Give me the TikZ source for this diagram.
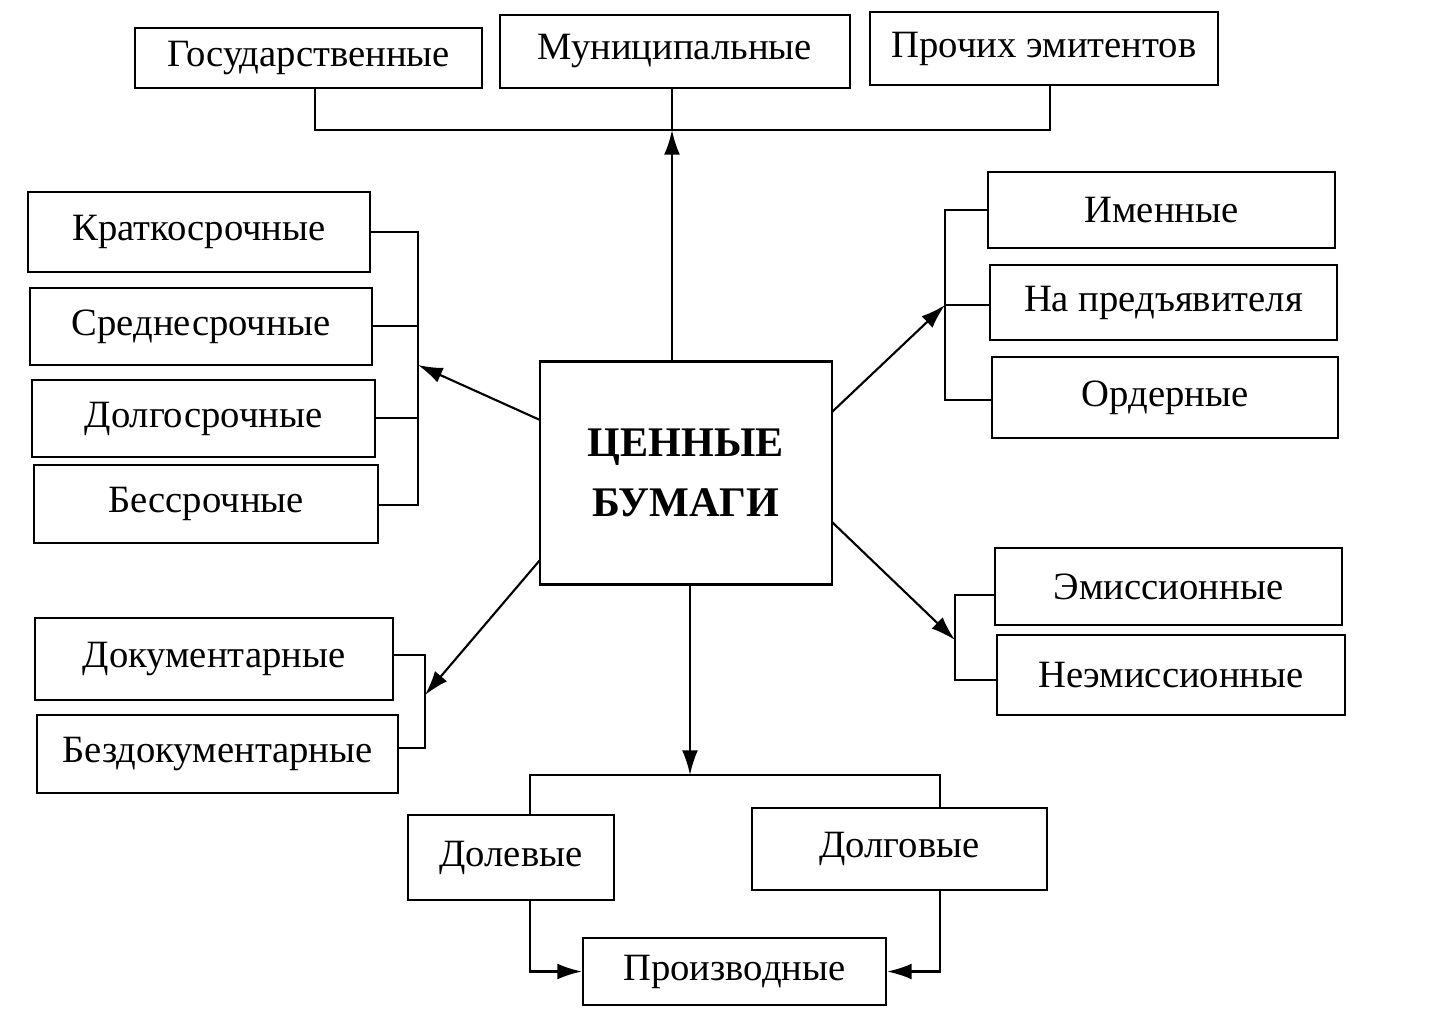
\documentclass[tikz,border=0pt]{standalone}
\usepackage{fontspec}
\setmainfont{Liberation Serif}
\usetikzlibrary{arrows.meta}
\tikzset{
  box/.style={draw, line width=1.2pt, inner sep=0pt, font=\fontsize{22}{26}\selectfont},
  link/.style={line width=1.2pt},
  arr/.style={line width=1.2pt, -{Latex[length=14pt,width=9pt]}}
}
% place a box by its pixel corners
\newcommand{\pbox}[6]{\node[box, minimum width={(#4-#3)*0.02cm}, minimum height={(#6-#5)*0.02cm}] (#1) at ({(#3+#4)/2},{(#5+#6)/2}) {#2};}
\begin{document}
\begin{tikzpicture}[x=0.02cm, y=-0.02cm]
  \useasboundingbox (0,0) rectangle (1441,1017);
  % top row
  \pbox{gos}{Государственные}{135}{482}{28}{88}
  \pbox{mun}{Муниципальные}{500}{850}{15}{88}
  \pbox{pro}{Прочих эмитентов}{870}{1218}{12}{85}
  % centre
  \node[box, font=\fontsize{24}{34}\selectfont\bfseries, align=center, minimum width=5.84cm, minimum height=4.46cm] (cb) at (686,473) {ЦЕННЫЕ\\БУМАГИ};
  % left upper group
  \pbox{kra}{Краткосрочные}{28}{370}{192}{272}
  \pbox{sre}{Среднесрочные}{30}{372}{288}{365}
  \pbox{dol}{Долгосрочные}{32}{375}{380}{457}
  \pbox{bes}{Бессрочные}{34}{378}{465}{543}
  % right upper group
  \pbox{ime}{Именные}{988}{1335}{172}{248}
  \pbox{pre}{На предъявителя}{990}{1337}{265}{340}
  \pbox{ord}{Ордерные}{992}{1338}{357}{438}
  % right lower group
  \pbox{emi}{Эмиссионные}{995}{1342}{548}{625}
  \pbox{nee}{Неэмиссионные}{997}{1345}{635}{715}
  % left lower group
  \pbox{doc}{Документарные}{35}{393}{618}{700}
  \pbox{bez}{Бездокументарные}{37}{398}{715}{793}
  % bottom
  \pbox{dle}{Долевые}{408}{614}{815}{900}
  \pbox{dlg}{Долговые}{752}{1047}{808}{890}
  \pbox{prz}{Производные}{583}{886}{938}{1005}
  % brackets
  \coordinate (tb) at (672,130);
  \draw[link] (315,88) |- (tb) -| (1050,85);
  \draw[link] (mun.south-|tb) -- (tb);
  \coordinate (lb) at (418,365);
  \draw[link] (kra.east|-0,232) -| (418,505) -- (bes.east|-0,505);
  \draw[link] (sre.east|-0,326) -- (418,326);
  \draw[link] (dol.east|-0,418) -- (418,418);
  \coordinate (rb) at (945,305);
  \draw[link] (ime.west|-0,210) -| (945,400) -- (ord.west|-0,400);
  \draw[link] (pre.west|-0,305) -- (rb);
  \coordinate (re) at (955,640);
  \draw[link] (emi.west|-0,595) -| (955,680) -- (nee.west|-0,680);
  \coordinate (ld) at (425,695);
  \draw[link] (doc.east|-0,655) -| (425,748) -- (bez.east|-0,748);
  \coordinate (bt) at (690,775);
  \draw[link] (530,815) |- (940,775) -- (940,808);
  % arrows from the centre
  \draw[arr] (cb.north-|tb) -- (tb);
  \draw[arr] (540,420) -- (lb);
  \draw[arr] (832,412) -- (rb);
  \draw[arr] (832,522) -- (re);
  \draw[arr] (540,560) -- (ld);
  \draw[arr] (cb.south-|bt) -- (bt);
  \draw[arr] (dle.south-|530,0) |- (prz.west);
  \draw[arr] (dlg.south-|940,0) |- (prz.east);
\end{tikzpicture}
\end{document}
